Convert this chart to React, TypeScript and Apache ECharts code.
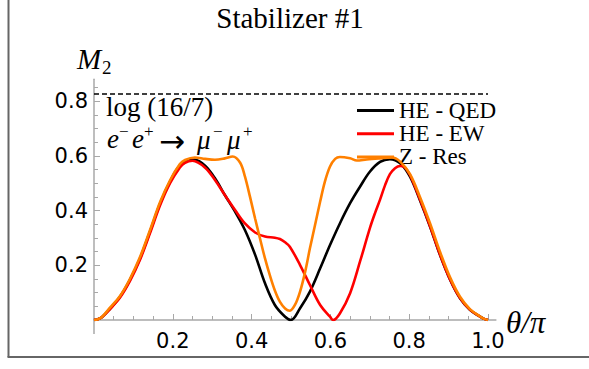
import React, { useEffect, useRef } from "react";
import * as echarts from "echarts";

// ---- data ----
const qedTheta = [0, 0.01, 0.02, 0.04, 0.066, 0.091, 0.117, 0.142, 0.168, 0.193, 0.218, 0.244, 0.256, 0.282, 0.307, 0.332, 0.358, 0.383, 0.409, 0.434, 0.459, 0.485, 0.5, 0.523, 0.548, 0.574, 0.599, 0.624, 0.65, 0.675, 0.7, 0.726, 0.751, 0.777, 0.802, 0.827, 0.853, 0.878, 0.904, 0.929, 0.954, 0.98, 0.99, 1.0];
const qedM2 = [0, 0.003, 0.01, 0.04, 0.085, 0.146, 0.226, 0.323, 0.427, 0.506, 0.565, 0.586, 0.586, 0.564, 0.518, 0.457, 0.396, 0.329, 0.238, 0.134, 0.055, 0.012, 0.0, 0.043, 0.104, 0.189, 0.274, 0.353, 0.427, 0.487, 0.542, 0.578, 0.588, 0.573, 0.524, 0.439, 0.341, 0.238, 0.146, 0.079, 0.037, 0.012, 0.004, 0];

const ewTheta = [0, 0.01, 0.02, 0.04, 0.066, 0.091, 0.117, 0.142, 0.168, 0.193, 0.218, 0.231, 0.25, 0.282, 0.307, 0.332, 0.358, 0.383, 0.409, 0.434, 0.459, 0.472, 0.485, 0.497, 0.523, 0.548, 0.574, 0.599, 0.607, 0.624, 0.65, 0.675, 0.7, 0.713, 0.726, 0.739, 0.751, 0.764, 0.777, 0.789, 0.802, 0.827, 0.853, 0.878, 0.904, 0.929, 0.954, 0.98, 0.99, 1];
const ewM2 = [0, 0.003, 0.01, 0.039, 0.082, 0.142, 0.221, 0.317, 0.42, 0.5, 0.558, 0.575, 0.582, 0.557, 0.512, 0.457, 0.402, 0.353, 0.32, 0.305, 0.301, 0.296, 0.284, 0.268, 0.201, 0.128, 0.055, 0.012, 0, 0.024, 0.098, 0.213, 0.335, 0.39, 0.44, 0.494, 0.533, 0.555, 0.563, 0.557, 0.53, 0.442, 0.343, 0.24, 0.147, 0.08, 0.038, 0.012, 0.004, 0];

const zresTheta = [0, 0.01, 0.02, 0.04, 0.066, 0.091, 0.117, 0.142, 0.168, 0.193, 0.218, 0.231, 0.256, 0.282, 0.307, 0.332, 0.352, 0.371, 0.383, 0.396, 0.409, 0.421, 0.434, 0.447, 0.459, 0.472, 0.485, 0.497, 0.51, 0.523, 0.536, 0.548, 0.561, 0.574, 0.586, 0.599, 0.612, 0.624, 0.65, 0.667, 0.692, 0.726, 0.756, 0.777, 0.802, 0.827, 0.853, 0.878, 0.904, 0.929, 0.954, 0.98, 0.99, 1];
const zresM2 = [0, 0.003, 0.011, 0.044, 0.088, 0.15, 0.231, 0.328, 0.432, 0.511, 0.57, 0.585, 0.594, 0.589, 0.586, 0.591, 0.598, 0.575, 0.525, 0.45, 0.37, 0.3, 0.225, 0.16, 0.108, 0.066, 0.042, 0.034, 0.055, 0.104, 0.177, 0.262, 0.347, 0.433, 0.506, 0.561, 0.589, 0.596, 0.591, 0.583, 0.587, 0.591, 0.594, 0.579, 0.533, 0.451, 0.353, 0.25, 0.155, 0.085, 0.04, 0.013, 0.004, 0];

const boundValue = 0.8267; // log(16/7)
const yMajorTicks = [0.2, 0.4, 0.6, 0.8];
const yMinorTicks = [0.05, 0.1, 0.15, 0.25, 0.3, 0.35, 0.45, 0.5, 0.55, 0.65, 0.7, 0.75, 0.85];
const xMajorTicks = [0.2, 0.4, 0.6, 0.8, 1.0];
const xMinorTicks = [0.05, 0.1, 0.15, 0.25, 0.3, 0.35, 0.45, 0.5, 0.55, 0.65, 0.7, 0.75, 0.85, 0.9, 0.95];
const seriesNames = ["HE - QED", "HE - EW", "Z - Res"];
const seriesColors = ["#000000", "#ff0000", "#ff8000"];

const zip = (a: number[], b: number[]) => a.map((v, i) => [v, b[i]]);

const SERIF = "Liberation Serif, DejaVu Serif, serif";
const SANS = "DejaVu Sans, sans-serif";
const AXIS_COLOR = "#a8a8a8";

export default function App() {
  const ref = useRef<HTMLDivElement>(null);
  useEffect(() => {
    if (!ref.current) return;
    const chart = echarts.init(ref.current, undefined, { renderer: "svg" });
    const yMin = 0;
    const yMax = 0.88;
    const xMin = 0;
    const xMax = 1.02;
    const axisLineStyle = { color: AXIS_COLOR, width: 1.5 };
    const tickStyle = { color: AXIS_COLOR, width: 1 };
    const text = (
      t: string,
      x: number,
      y: number,
      size: number,
      italic = false,
      align = "left",
      family = SERIF
    ) => ({
      type: "text",
      x,
      y,
      silent: true,
      style: {
        text: t,
        fontFamily: family,
        fontSize: size,
        fontStyle: italic ? "italic" : "normal",
        fill: "#000",
        textAlign: align,
        textVerticalAlign: "middle",
      },
    });
    chart.setOption({
      animation: false,
      backgroundColor: "#ffffff",
      grid: { left: 94, right: 93.1, top: 79.3, bottom: 49 },
      xAxis: [
        {
          type: "value",
          min: xMin,
          max: xMax,
          axisLine: { show: true, lineStyle: axisLineStyle },
          axisTick: { show: true, inside: true, length: 6, customValues: xMajorTicks, lineStyle: tickStyle },
          axisLabel: {
            show: true,
            customValues: xMajorTicks,
            formatter: (v: number) => v.toFixed(1),
            margin: 10,
            fontFamily: SANS,
            fontSize: 21,
            color: "#000",
          },
          splitLine: { show: false },
        },
        {
          type: "value",
          min: xMin,
          max: xMax,
          position: "bottom",
          axisLine: { show: false },
          axisTick: { show: true, inside: true, length: 4, customValues: xMinorTicks, lineStyle: tickStyle },
          axisLabel: { show: false },
          splitLine: { show: false },
        },
      ],
      yAxis: [
        {
          type: "value",
          min: yMin,
          max: yMax,
          axisLine: { show: true, lineStyle: axisLineStyle },
          axisTick: { show: true, inside: true, length: 6, customValues: yMajorTicks, lineStyle: tickStyle },
          axisLabel: {
            show: true,
            customValues: yMajorTicks,
            formatter: (v: number) => v.toFixed(1),
            margin: 6,
            fontFamily: SANS,
            fontSize: 21,
            color: "#000",
          },
          splitLine: { show: false },
        },
        {
          type: "value",
          min: yMin,
          max: yMax,
          position: "left",
          axisLine: { show: false },
          axisTick: { show: true, inside: true, length: 4, customValues: yMinorTicks, lineStyle: tickStyle },
          axisLabel: { show: false },
          splitLine: { show: false },
        },
      ],
      legend: {
        data: seriesNames,
        orient: "vertical",
        left: 352,
        top: 94,
        icon: "rect",
        itemWidth: 37,
        itemHeight: 3,
        itemGap: 0.2,
        textStyle: { fontFamily: SERIF, fontSize: 23, lineHeight: 22, color: "#000" },
      },
      series: [
        {
          name: "bound",
          type: "line",
          data: [[0, boundValue], [1, boundValue]],
          symbol: "none",
          lineStyle: { color: "#000", width: 1.5, type: [5, 3] },
          silent: true,
          z: 1,
        },
        ...[qedTheta, ewTheta, zresTheta].map((th, i) => ({
          name: seriesNames[i],
          type: "line",
          data: zip(th, [qedM2, ewM2, zresM2][i]),
          symbol: "none",
          showSymbol: false,
          smooth: 0.35,
          color: seriesColors[i],
          lineStyle: { color: seriesColors[i], width: 2.6 },
          z: 2 + i,
        })),
      ],
      graphic: [
        {
          type: "line",
          silent: true,
          shape: { x1: 8.5, y1: 0, x2: 8.5, y2: 357 },
          style: { stroke: "#666", lineWidth: 2 },
        },
        {
          type: "line",
          silent: true,
          shape: { x1: 7.5, y1: 357, x2: 589, y2: 357 },
          style: { stroke: "#666", lineWidth: 2 },
        },
        {
          type: "line",
          silent: true,
          shape: { x1: 94, y1: 320, x2: 94, y2: 334 },
          style: { stroke: AXIS_COLOR, lineWidth: 1.5 },
        },
        text("Stabilizer #1", 290, 18, 29, false, "center"),
        text("M", 77, 59, 29, true),
        text("2", 102, 67, 19),
        text("log (16/7)", 106, 107, 27),
        text("e", 107, 139, 27, true),
        text("\u2212", 119, 131, 17),
        text("e", 132, 139, 27, true),
        text("+", 144, 131, 17),
        text("\u2192", 159, 141, 31, false, "left", SANS),
        text("\u03bc", 197, 140, 27, true),
        text("\u2212", 213, 131, 17),
        text("\u03bc", 227, 140, 27, true),
        text("+", 243, 131, 17),
        text("\u03b8/\u03c0", 506, 322, 31, true),
      ],
    });
    return () => chart.dispose();
  }, []);
  return (
    <div
      ref={ref}
      style={{ position: "fixed", left: 0, top: 0, width: 589, height: 369, background: "#fff" }}
    />
  );
}
